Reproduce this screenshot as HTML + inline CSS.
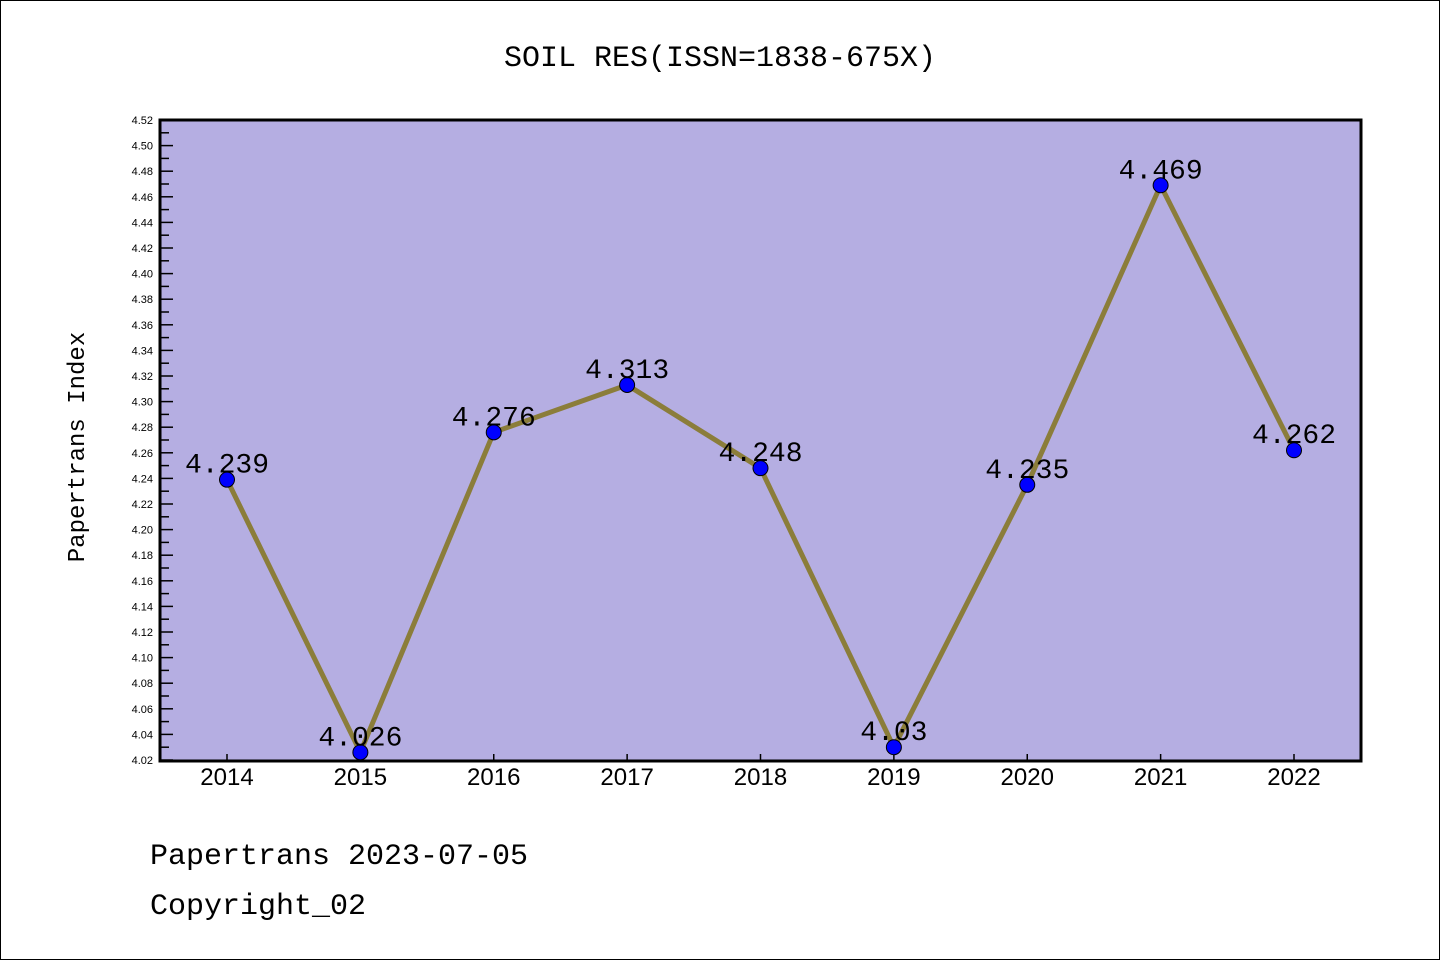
<!DOCTYPE html>
<html><head><meta charset="utf-8"><style>
html,body{margin:0;padding:0;background:#fff}
svg{display:block}
text{font-family:"Liberation Mono","DejaVu Sans Mono",monospace}
text.sans{font-family:"Liberation Sans","DejaVu Sans",sans-serif}
</style></head><body>
<svg id="chart" width="1440" height="960">
<rect x="0.5" y="0.5" width="1439" height="959" fill="#fff" stroke="#000" stroke-width="1"/>
<text x="720" y="66" text-anchor="middle" font-size="30">SOIL RES(ISSN=1838-675X)</text>
<rect x="160" y="120" width="1201" height="641" fill="#b5aee2"/>
<g id="yaxis"></g>
<g id="xaxis"></g>
<g id="series"></g>
<rect x="160" y="120" width="1201" height="641" fill="none" stroke="#000" stroke-width="3"/>
<text transform="translate(84,447) rotate(-90)" text-anchor="middle" font-size="24">Papertrans Index</text>
<text x="150" y="864" font-size="30">Papertrans 2023-07-05</text>
<text x="150" y="914" font-size="30">Copyright_02</text>
</svg>
<script>
const years = ["2014","2015","2016","2017","2018","2019","2020","2021","2022"];
const values = [4.239,4.026,4.276,4.313,4.248,4.03,4.235,4.469,4.262];
const labels = ["4.239","4.026","4.276","4.313","4.248","4.03","4.235","4.469","4.262"];
const yMin = 4.02, yMax = 4.52;
const NS="http://www.w3.org/2000/svg";
const X0=227, X1=1294, Y0=760, Y1=120;
function xs(i){return X0+(X1-X0)*i/(years.length-1);}
function ys(v){return Y0-(v-yMin)/(yMax-yMin)*(Y0-Y1);}
function mk(tag,attrs,parent){const e=document.createElementNS(NS,tag);for(const k in attrs)e.setAttribute(k,attrs[k]);parent.appendChild(e);return e;}
const ya=document.getElementById('yaxis');
for(let k=0;k<=50;k++){
  const v=yMin+k*0.01;const y=ys(v);
  const major=k%2===0;
  const t=mk('line',{x1:160,x2:major?173:169,y1:y,y2:y,stroke:'#000','stroke-width':1.5},ya);
  
  
  if(major){
    const tx=mk('text',{x:153,y:y+4,'text-anchor':'end','font-size':11,'class':'sans'},ya);
    tx.textContent=v.toFixed(2);
    
    
  }
}
const xa=document.getElementById('xaxis');
years.forEach((yr,i)=>{
  const x=xs(i);
  const t=mk('line',{x1:x,x2:x,y1:760,y2:754,stroke:'#000','stroke-width':1.5},xa);
  
  
  const tx=mk('text',{x:x,y:785,'text-anchor':'middle','font-size':24,'class':'sans'},xa);
  tx.textContent=yr;
  
  
});
const s=document.getElementById('series');
const pts=values.map((v,i)=>xs(i)+','+ys(v)).join(' ');
const pl=mk('polyline',{points:pts,fill:'none',stroke:'#8b7d3a','stroke-width':5,'stroke-linejoin':'round'},s);


values.forEach((v,i)=>{
  const c=mk('circle',{cx:xs(i),cy:ys(v),r:7.5,fill:'#0000ff',stroke:'#000','stroke-width':1},s);
  
  
  const tx=mk('text',{x:xs(i),y:ys(v)-7,'text-anchor':'middle','font-size':28},s);
  tx.textContent=labels[i];
  
  
});
</script>
</body></html>
